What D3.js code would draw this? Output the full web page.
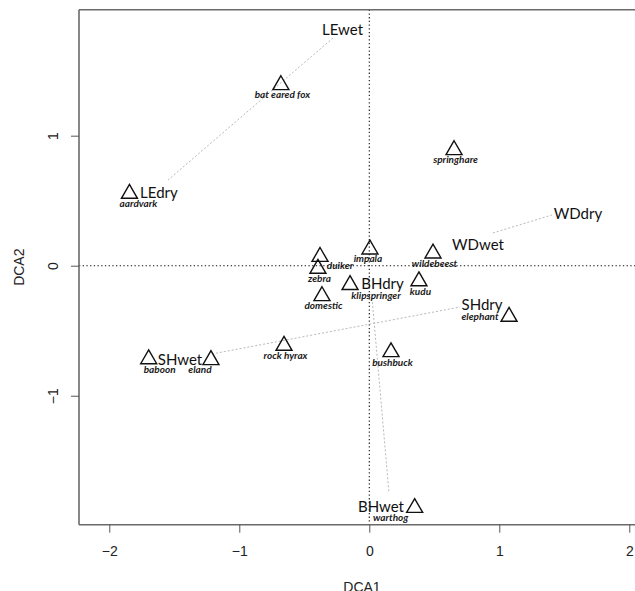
<!DOCTYPE html>
<html>
<head>
<meta charset="utf-8">
<script src="https://cdn.jsdelivr.net/npm/d3@7"></script>
<style>
  html, body { margin: 0; padding: 0; background: #fff; overflow: hidden; }
  svg { display: block; overflow: hidden; }
  .tick-label { font-family: "Liberation Sans", Arial, sans-serif; font-size: 14px; fill: #222; }
  .axis-title { font-family: "Liberation Sans", Arial, sans-serif; font-size: 14px; fill: #222; }
  .site { font-family: Lato, "Open Sans", sans-serif; font-size: 15px; fill: #111; }
  .species { font-family: Lato, "Open Sans", sans-serif; font-size: 10px; font-style: italic; font-weight: bold; fill: #1a1a1a; }
</style>
</head>
<body>
<div id="graph"></div>
<script>
// species scores (triangles)
const speciesNames = ["bat eared fox", "aardvark", "springhare", "impala", "wildebeest", "kudu",
  "klipspringer", "elephant", "bushbuck", "duiker", "zebra", "domestic", "rock hyrax",
  "eland", "baboon", "warthog"];
const speciesX = [-0.68, -1.845, 0.652, 0.005, 0.49, 0.382, -0.148, 1.075, 0.167, -0.379, -0.395, -0.364, -0.656, -1.218, -1.697, 0.349];
const speciesY = [1.39, 0.554, 0.89, 0.126, 0.095, -0.119, -0.148, -0.392, -0.664, 0.069, -0.023, -0.233, -0.615, -0.725, -0.718, -1.862];

// site labels
const siteNames = ["LEwet", "LEdry", "WDdry", "WDwet", "SHdry", "SHwet", "BHdry", "BHwet"];
const siteX = [-0.206, -1.618, 1.605, 0.836, 0.867, -1.456, 0.102, 0.09];
const siteY = [1.813, 0.559, 0.402, 0.159, -0.302, -0.725, -0.141, -1.856];

// wet/dry connections
const segX1 = [-0.279, 0.951, -1.21, 0.021];
const segY1 = [1.752, 0.252, -0.679, -0.248];
const segX2 = [-1.548, 1.405, 0.698, 0.151];
const segY2 = [0.659, 0.39, -0.318, -1.741];

const xTicks = [-2, -1, 0, 1, 2];
const yTicks = [-1, 0, 1];

// label nudges in px, relative to the triangle
const labelNudge = {
  "aardvark": [9, 13.5],
  "klipspringer": [26, 14],
  "elephant": [-29, 3.5],
  "duiker": [20, 12.6],
  "eland": [-11, 13],
  "baboon": [11, 13.7],
  "warthog": [-24, 13],
  "impala": [-2, 13]
};

const width = 635, height = 591;
const margin = {left: 79, top: 9.7, bottom: 66.3};

const svg = d3.select("#graph")
  .append("svg")
  .attr("width", width)
  .attr("height", height);

const x = d3.scaleLinear().domain([-2.233, 2.12]).range([margin.left, margin.left + 4.353 * 130]);
const y = d3.scaleLinear().domain([-1.992, 1.969]).range([height - margin.bottom, margin.top]);

const [x0] = x.range();
const [yb, yt] = y.range();
const xEnd = width;

// zero lines
svg.append("line")
  .attr("x1", x0).attr("x2", xEnd)
  .attr("y1", y(0)).attr("y2", y(0))
  .attr("stroke", "#111").attr("stroke-width", 1.1)
  .attr("stroke-dasharray", "1.3,2.4");
svg.append("line")
  .attr("x1", x(0)).attr("x2", x(0))
  .attr("y1", yt).attr("y2", yb)
  .attr("stroke", "#111").attr("stroke-width", 1.1)
  .attr("stroke-dasharray", "1.3,2.4");

// grey connectors
svg.append("g").selectAll("line").data(segX1).enter()
  .append("line")
  .attr("x1", (d, i) => x(segX1[i]))
  .attr("y1", (d, i) => y(segY1[i]))
  .attr("x2", (d, i) => x(segX2[i]))
  .attr("y2", (d, i) => y(segY2[i]))
  .attr("stroke", "#b8b8b8").attr("stroke-width", 1)
  .attr("stroke-dasharray", "2,2");

// frame: top, left, bottom (right side runs off the page)
const frame = svg.append("g").attr("stroke", "#6a6a6a").attr("stroke-width", 1.6);
frame.append("line").attr("x1", x0).attr("x2", xEnd).attr("y1", yt).attr("y2", yt);
frame.append("line").attr("x1", x0).attr("x2", x0).attr("y1", yt).attr("y2", yb);
frame.append("line").attr("x1", x0).attr("x2", xEnd).attr("y1", yb).attr("y2", yb);

// axes
const xAxis = svg.append("g")
  .attr("transform", `translate(0,${yb})`)
  .call(d3.axisBottom(x).tickValues(xTicks).tickSize(8).tickFormat(d3.format("d")));
xAxis.select(".domain").remove();
xAxis.selectAll(".tick line").attr("stroke", "#555");
xAxis.selectAll(".tick text").attr("class", "tick-label").attr("y", 21).attr("dy", "0.71em")
  .attr("font-size", null).attr("font-family", null);

const yAxis = svg.append("g")
  .attr("transform", `translate(${x0},0)`)
  .call(d3.axisLeft(y).tickValues(yTicks).tickSize(8).tickFormat(d3.format("d")));
yAxis.select(".domain").remove();
yAxis.selectAll(".tick line").attr("stroke", "#555");
yAxis.selectAll(".tick text")
  .attr("class", "tick-label")
  .attr("x", null).attr("dy", null)
  .attr("text-anchor", "middle")
  .attr("transform", "translate(-21,0) rotate(-90)");

svg.append("text").attr("class", "axis-title")
  .attr("x", 362).attr("y", 592)
  .attr("text-anchor", "middle").text("DCA1");
svg.append("text").attr("class", "axis-title")
  .attr("transform", `translate(24,${(yt + yb) / 2}) rotate(-90)`)
  .attr("text-anchor", "middle").text("DCA2");

// triangles
const tri = d3.symbol().type(d3.symbolTriangle).size(111);
svg.append("g").selectAll("path").data(speciesNames).enter()
  .append("path")
  .attr("d", tri)
  .attr("transform", (d, i) => `translate(${x(speciesX[i])},${y(speciesY[i])})`)
  .attr("fill", "none").attr("stroke", "#111").attr("stroke-width", 1.4);

// species labels
svg.append("g").selectAll("text").data(speciesNames).enter()
  .append("text")
  .attr("class", "species")
  .attr("x", (d, i) => x(speciesX[i]) + (labelNudge[d] || [1.5, 13.5])[0])
  .attr("y", (d, i) => y(speciesY[i]) + (labelNudge[d] || [1.5, 13.5])[1])
  .attr("text-anchor", "middle")
  .text(d => d);

// site labels
svg.append("g").selectAll("text").data(siteNames).enter()
  .append("text")
  .attr("class", "site")
  .attr("x", (d, i) => x(siteX[i]))
  .attr("y", (d, i) => y(siteY[i]))
  .attr("dy", "0.36em")
  .attr("text-anchor", "middle")
  .text(d => d);
</script>
</body>
</html>
